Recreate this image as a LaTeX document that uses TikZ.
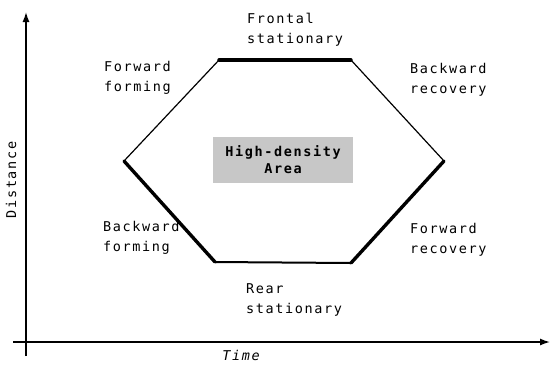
\documentclass[tikz,border=0pt]{standalone}
\usepackage{fontspec}
\newfontfamily\lblfont[LetterSpace=12]{DejaVu Sans Mono}
\usetikzlibrary{arrows.meta}
\begin{document}
\begin{tikzpicture}[x=1pt,y=-1pt,
  lbl/.style={font=\lblfont\fontsize{13.5}{20}\selectfont, align=left, inner sep=0pt},
  axis/.style={line width=1.4pt, -{Latex[length=10pt,width=7pt]}},
  thin edge/.style={line width=1.2pt},
  heavy edge/.style={line width=3.4pt, line cap=round},
  area/.style={fill=black!22, inner sep=0pt, minimum width=140pt, minimum height=46pt,
    align=center, font=\lblfont\bfseries\fontsize{13.5}{17}\selectfont}]
\useasboundingbox (0,0) rectangle (551,365);
% axes
\coordinate (ybot) at (26,356);
\coordinate (ytop) at (26,12);
\coordinate (xleft) at (13,342);
\coordinate (xright) at (550,342);
\draw[axis] (ybot) -- (ytop);
\draw[axis] (xleft) -- (xright);
\node[lbl, rotate=90] (dist) at (11,180) {Distance};
\node[lbl, font=\lblfont\itshape\fontsize{13.5}{20}\selectfont] (time) at (241,355) {Time};
% high-density area
\coordinate (lv) at (124,161);
\coordinate (tl) at (219,60);
\coordinate (tr) at (351,60);
\coordinate (rv) at (444,161);
\coordinate (br) at (351,263);
\coordinate (bl) at (215,262);
\draw[thin edge] (lv) -- (tl);
\draw[thin edge] (tr) -- (rv);
\draw[line width=2pt] (bl) -- (br);
\draw[heavy edge] (tl) -- (tr);
\draw[heavy edge] (lv) -- (bl);
\draw[heavy edge] (br) -- (rv);
\node[area] (hda) at (283,160) {High-density\\Area};
% phase labels
\node[lbl, anchor=west] (front) at (247,30) {Frontal\\stationary};
\node[lbl, anchor=west] (ffwd) at (104,78) {Forward\\forming};
\node[lbl, anchor=west] (brec) at (410,80) {Backward\\recovery};
\node[lbl, anchor=west] (bfwd) at (103,238) {Backward\\forming};
\node[lbl, anchor=west] (frec) at (410,240) {Forward\\recovery};
\node[lbl, anchor=west] (rear) at (246,300) {Rear\\stationary};
\end{tikzpicture}
\end{document}
